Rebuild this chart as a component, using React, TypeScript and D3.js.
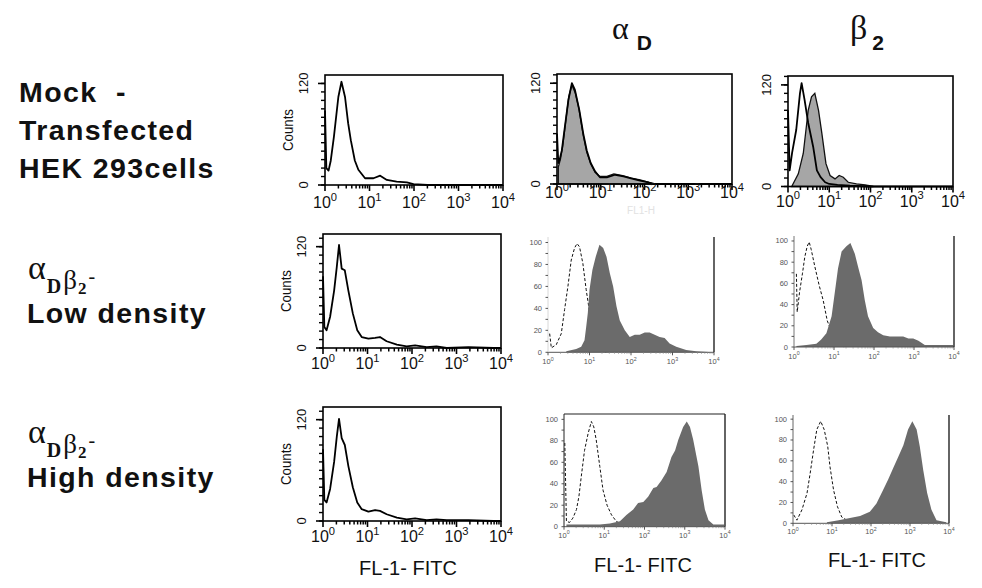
import React, { useEffect, useRef } from 'react';
import * as d3 from 'd3';

// each point: [log10 FL1 intensity, counts]
type Pt = [number, number];

const DECADES = [0, 1, 2, 3, 4];
const CQ_COUNT_LABELS = [0, 120];
const WM_COUNT_LABELS = [0, 20, 40, 60, 80, 100];
const AXIS_TITLE = 'FL-1- FITC';

// Row 1 - mock transfected HEK 293
const mockIsotype: Pt[] = [
  [0, 88], [0.03, 20], [0.08, 17], [0.13, 29], [0.2, 57], [0.3, 104], [0.37, 122], [0.45, 104],
  [0.52, 73], [0.58, 53], [0.67, 29], [0.75, 18], [0.9, 8], [1.09, 8], [1.24, 11], [1.39, 6],
  [1.61, 4], [1.84, 3], [1.99, 1], [2.3, 0], [4, 0],
];
const mockAlphaCtrl: Pt[] = [
  [0, 60], [0.03, 25], [0.06, 29], [0.11, 40], [0.18, 68], [0.26, 100], [0.34, 120], [0.41, 112],
  [0.51, 88], [0.6, 60], [0.68, 40], [0.77, 25], [0.87, 15], [0.98, 8], [1.14, 8], [1.33, 11],
  [1.52, 9], [1.67, 7], [1.9, 4], [2.09, 2], [2.2, 0], [4, 0],
];
const mockAlphaStain: Pt[] = [
  [0.03, 20], [0.08, 30], [0.13, 45], [0.2, 75], [0.27, 104], [0.34, 118], [0.42, 108], [0.5, 90],
  [0.6, 58], [0.68, 38], [0.77, 24], [0.87, 14], [0.98, 9], [1.14, 9], [1.3, 12], [1.5, 10],
  [1.7, 7], [1.9, 5], [2.1, 2], [2.25, 0],
];
const mockBetaCtrl: Pt[] = [
  [0, 90], [0.04, 19], [0.1, 40], [0.2, 67], [0.29, 110], [0.33, 122], [0.4, 103], [0.49, 75],
  [0.61, 47], [0.7, 19], [0.79, 11], [0.9, 5], [1.0, 3], [1.2, 2], [1.5, 1], [2.0, 0], [4, 0],
];
const mockBetaStain: Pt[] = [
  [0.09, 0], [0.25, 15], [0.37, 39], [0.49, 90], [0.57, 106], [0.65, 110], [0.74, 90], [0.82, 63],
  [0.92, 27], [1.02, 13], [1.14, 9], [1.24, 13], [1.34, 11], [1.46, 5], [1.66, 3], [1.87, 2], [2.07, 0],
];

// Row 2 - low density alphaD beta2
const lowIsotype: Pt[] = [
  [0, 85], [0.03, 25], [0.08, 21], [0.16, 37], [0.25, 68], [0.31, 96], [0.36, 122], [0.42, 94],
  [0.49, 92], [0.57, 68], [0.67, 41], [0.77, 21], [0.87, 13], [1.02, 11], [1.17, 12], [1.28, 13],
  [1.43, 8], [1.66, 4], [1.88, 2], [2.07, 3], [2.33, 1], [2.55, 2], [2.78, 0], [3.27, 1], [3.83, 0], [4, 0],
];
const lowAlphaCtrl: Pt[] = [
  [0.04, 17], [0.08, 4], [0.2, 7], [0.32, 17], [0.4, 39], [0.48, 60], [0.56, 84], [0.64, 95],
  [0.7, 99], [0.76, 96], [0.84, 81], [0.92, 57], [0.98, 42], [1.08, 14], [1.2, 4], [1.4, 0],
];
const lowAlphaStain: Pt[] = [
  [0.44, 1], [0.68, 3], [0.8, 5], [0.88, 11], [0.92, 23], [0.96, 36], [1.0, 57], [1.07, 75],
  [1.15, 87], [1.24, 98], [1.33, 95], [1.41, 87], [1.49, 72], [1.57, 60], [1.65, 42], [1.73, 29],
  [1.85, 20], [1.97, 14], [2.09, 16], [2.21, 16], [2.33, 18], [2.45, 18], [2.57, 16], [2.69, 14],
  [2.81, 13], [2.93, 8], [3.09, 5], [3.33, 2], [3.57, 1], [3.98, 0],
];
const lowBetaCtrl: Pt[] = [
  [0.06, 69], [0.08, 33], [0.14, 52], [0.21, 69], [0.27, 85], [0.33, 95], [0.38, 99], [0.43, 92],
  [0.52, 76], [0.63, 58], [0.73, 44], [0.83, 25], [0.89, 19], [1.02, 7], [1.14, 1], [1.3, 0],
];
const lowBetaStain: Pt[] = [
  [0.06, 1], [0.31, 2], [0.56, 3], [0.68, 7], [0.81, 13], [0.94, 29], [1.04, 57], [1.1, 74],
  [1.19, 90], [1.31, 95], [1.41, 98], [1.52, 88], [1.6, 76], [1.69, 63], [1.77, 44], [1.85, 29],
  [1.98, 18], [2.1, 14], [2.23, 11], [2.4, 10], [2.56, 10], [2.73, 10], [2.86, 8], [2.98, 8],
  [3.11, 6], [3.27, 2], [3.44, 2], [3.65, 2], [3.98, 2],
];

// Row 3 - high density alphaD beta2
const highIsotype: Pt[] = [
  [0, 85], [0.03, 25], [0.08, 22], [0.16, 38], [0.25, 70], [0.31, 100], [0.36, 121], [0.42, 98],
  [0.49, 90], [0.57, 65], [0.67, 40], [0.77, 22], [0.87, 14], [1.02, 11], [1.17, 13], [1.28, 12],
  [1.43, 8], [1.66, 4], [1.88, 2], [2.07, 3], [2.33, 1], [2.55, 2], [2.78, 1], [3.27, 1], [3.83, 0], [4, 0],
];
const highAlphaCtrl: Pt[] = [
  [0.02, 78], [0.06, 5], [0.14, 4], [0.22, 8], [0.31, 16], [0.37, 28], [0.43, 47], [0.51, 71],
  [0.6, 87], [0.68, 98], [0.74, 93], [0.8, 81], [0.89, 56], [0.97, 34], [1.07, 20], [1.18, 11],
  [1.3, 5], [1.39, 3], [1.55, 1],
];
const highAlphaStain: Pt[] = [
  [0.06, 2], [0.56, 2], [0.89, 2], [1.14, 3], [1.39, 5], [1.55, 11], [1.72, 16], [1.84, 22],
  [1.97, 23], [2.09, 28], [2.22, 36], [2.3, 37], [2.42, 43], [2.55, 51], [2.67, 65], [2.76, 71],
  [2.84, 81], [2.96, 93], [3.05, 98], [3.13, 93], [3.21, 81], [3.34, 56], [3.42, 34], [3.5, 16],
  [3.59, 6], [3.71, 2], [3.98, 2],
];
const highBetaCtrl: Pt[] = [
  [0.02, 8], [0.1, 3], [0.23, 13], [0.36, 29], [0.44, 48], [0.53, 71], [0.61, 90], [0.71, 98],
  [0.8, 90], [0.89, 74], [0.95, 54], [1.04, 32], [1.14, 16], [1.25, 6], [1.38, 3], [1.55, 1],
];
const highBetaStain: Pt[] = [
  [0.87, 1], [1.17, 3], [1.46, 5], [1.72, 7], [1.97, 11], [2.14, 19], [2.31, 32], [2.44, 42],
  [2.57, 53], [2.7, 64], [2.83, 75], [2.95, 90], [3.06, 98], [3.17, 90], [3.25, 74], [3.34, 51],
  [3.44, 29], [3.55, 13], [3.68, 3], [3.93, 1],
];

interface Panel {
  kind: 'cq' | 'wm';
  x0: number; x1: number; y0: number; y1: number;
  yMax: number;
  labelDy: number;
  ctrl: Pt[];
  stain?: Pt[];
  counts?: boolean;
  box?: boolean;
  left?: string;
}

const PANELS: Panel[] = [
  { kind: 'cq', x0: 325, x1: 503, y0: 75, y1: 185, yMax: 130, labelDy: 23, counts: true, ctrl: mockIsotype },
  { kind: 'cq', x0: 557, x1: 732, y0: 74, y1: 184, yMax: 131, labelDy: 14, ctrl: mockAlphaCtrl, stain: mockAlphaStain },
  { kind: 'cq', x0: 788, x1: 953, y0: 76, y1: 186.5, yMax: 130.5, labelDy: 20, ctrl: mockBetaCtrl, stain: mockBetaStain },
  { kind: 'cq', x0: 323, x1: 501, y0: 234, y1: 348, yMax: 135, labelDy: 21, counts: true, ctrl: lowIsotype },
  { kind: 'wm', x0: 548, x1: 714, y0: 237, y1: 352.3, yMax: 105, labelDy: 12, left: '#d8d8d8', ctrl: lowAlphaCtrl, stain: lowAlphaStain },
  { kind: 'wm', x0: 794, x1: 954, y0: 236, y1: 347, yMax: 104.7, labelDy: 11.5, left: '#777', ctrl: lowBetaCtrl, stain: lowBetaStain },
  { kind: 'cq', x0: 323, x1: 501, y0: 407, y1: 521, yMax: 135, labelDy: 21, counts: true, ctrl: highIsotype },
  { kind: 'wm', x0: 564, x1: 725, y0: 414, y1: 526.7, yMax: 105, labelDy: 11, box: true, ctrl: highAlphaCtrl, stain: highAlphaStain },
  { kind: 'wm', x0: 793, x1: 949, y0: 415, y1: 523.3, yMax: 104, labelDy: 11, left: '#666', ctrl: highBetaCtrl, stain: highBetaStain },
];

const SANS = 'Arial, "Liberation Sans", Helvetica, sans-serif';
const SERIF = '"Times New Roman", "Liberation Serif", serif';

type G = d3.Selection<SVGGElement, unknown, null, undefined>;

function decadeLabel(g: G, x: number, y: number, k: number, size: number, fill: string) {
  const t = g.append('text')
    .attr('x', x).attr('y', y)
    .attr('text-anchor', 'middle')
    .attr('font-family', SANS)
    .attr('font-size', size)
    .attr('fill', fill);
  t.append('tspan').text('10');
  t.append('tspan').attr('dy', -size * 0.45).attr('font-size', size * 0.7).text(String(k));
}

function drawPanel(g: G, p: Panel) {
  const x = d3.scaleLog().domain([1, 1e4]).range([p.x0, p.x1]);
  const y = d3.scaleLinear().domain([0, p.yMax]).range([p.y1, p.y0]);
  const fx = (d: Pt) => x(Math.pow(10, d[0]));
  const area = d3.area<Pt>().x(fx).y0(y(0)).y1(d => y(d[1]));
  const line = d3.line<Pt>().x(fx).y(d => y(d[1]));
  const minors = DECADES.slice(0, -1).flatMap(k => d3.range(2, 10).map(m => m * Math.pow(10, k)));

  if (p.kind === 'cq') {
    if (p.stain) {
      g.append('path').datum(p.stain).attr('d', area)
        .attr('fill', '#a6a6a6').attr('stroke', '#111').attr('stroke-width', 1.3);
    }
    g.append('path').datum(p.ctrl).attr('d', line)
      .attr('fill', 'none').attr('stroke', '#000').attr('stroke-width', 1.8)
      .attr('stroke-linejoin', 'round');

    g.append('rect')
      .attr('x', p.x0).attr('y', p.y0)
      .attr('width', p.x1 - p.x0).attr('height', p.y1 - p.y0)
      .attr('fill', 'none').attr('stroke', '#000').attr('stroke-width', 1.6);

    // x comb
    g.selectAll(null).data(minors).enter().append('line')
      .attr('x1', d => x(d)).attr('x2', d => x(d))
      .attr('y1', p.y1).attr('y2', p.y1 + 3.5)
      .attr('stroke', '#000').attr('stroke-width', 1.5);
    g.selectAll(null).data(DECADES).enter().append('line')
      .attr('x1', d => x(Math.pow(10, d))).attr('x2', d => x(Math.pow(10, d)))
      .attr('y1', p.y1).attr('y2', p.y1 + 6)
      .attr('stroke', '#000').attr('stroke-width', 1.6);
    // y comb
    g.selectAll(null).data(d3.range(0, p.yMax, 10)).enter().append('line')
      .attr('x1', p.x0 - 4).attr('x2', p.x0)
      .attr('y1', d => y(d)).attr('y2', d => y(d))
      .attr('stroke', '#000').attr('stroke-width', 1.4);
    g.selectAll(null).data(CQ_COUNT_LABELS).enter().append('line')
      .attr('x1', p.x0 - 7).attr('x2', p.x0)
      .attr('y1', d => y(d)).attr('y2', d => y(d))
      .attr('stroke', '#000').attr('stroke-width', 1.6);

    CQ_COUNT_LABELS.forEach(v => {
      g.append('text')
        .attr('transform', `translate(${p.x0 - 17},${y(v)}) rotate(-90)`)
        .attr('text-anchor', 'middle')
        .attr('font-family', SANS).attr('font-size', 13).attr('fill', '#111')
        .text(String(v));
    });
    DECADES.forEach(k => decadeLabel(g, x(Math.pow(10, k)), p.y1 + p.labelDy, k, 16, '#111'));

    if (p.counts) {
      g.append('text')
        .attr('transform', `translate(${p.x0 - 32},${(p.y0 + p.y1) / 2}) rotate(-90)`)
        .attr('text-anchor', 'middle')
        .attr('font-family', SANS).attr('font-size', 15).attr('fill', '#111')
        .attr('textLength', 42).attr('lengthAdjust', 'spacingAndGlyphs')
        .text('Counts');
    }
    return;
  }

  // WinMDI-style panel
  g.append('path').datum(p.ctrl).attr('d', line)
    .attr('fill', 'none').attr('stroke', '#111').attr('stroke-width', 1)
    .attr('stroke-dasharray', '3,2');
  g.append('path').datum(p.stain).attr('d', area).attr('fill', '#6b6b6b');

  g.append('line')
    .attr('x1', p.x0).attr('x2', p.x1).attr('y1', p.y1).attr('y2', p.y1)
    .attr('stroke', '#555').attr('stroke-width', 1);
  g.append('line')
    .attr('x1', p.x1).attr('x2', p.x1).attr('y1', p.y0).attr('y2', p.y1)
    .attr('stroke', '#111').attr('stroke-width', 1.3);
  g.append('line')
    .attr('x1', p.x0).attr('x2', p.x0).attr('y1', p.y0).attr('y2', p.y1)
    .attr('stroke', p.box ? '#222' : (p.left ?? '#888')).attr('stroke-width', 1);
  if (p.box) {
    g.append('line')
      .attr('x1', p.x0).attr('x2', p.x1).attr('y1', p.y0).attr('y2', p.y0)
      .attr('stroke', '#222').attr('stroke-width', 1.2);
  }

  g.selectAll(null).data(d3.range(0, 101, 10)).enter().append('line')
    .attr('x1', p.x0 - 2.5).attr('x2', p.x0)
    .attr('y1', d => y(d)).attr('y2', d => y(d))
    .attr('stroke', '#444').attr('stroke-width', 0.9);
  g.selectAll(null).data(DECADES).enter().append('line')
    .attr('x1', d => x(Math.pow(10, d))).attr('x2', d => x(Math.pow(10, d)))
    .attr('y1', p.y1).attr('y2', p.y1 + 3)
    .attr('stroke', '#444').attr('stroke-width', 0.9);
  g.selectAll(null).data(minors).enter().append('line')
    .attr('x1', d => x(d)).attr('x2', d => x(d))
    .attr('y1', p.y1).attr('y2', p.y1 + 1.5)
    .attr('stroke', '#888').attr('stroke-width', 0.7);

  WM_COUNT_LABELS.forEach(v => {
    g.append('text')
      .attr('x', p.x0 - 6).attr('y', y(v) + 2.5)
      .attr('text-anchor', 'end')
      .attr('font-family', SANS).attr('font-size', 7.5).attr('fill', '#555')
      .text(String(v));
  });
  DECADES.forEach(k => decadeLabel(g, x(Math.pow(10, k)), p.y1 + p.labelDy, k, 7.5, '#555'));
}

const App: React.FC = () => {
  const svgRef = useRef<SVGSVGElement>(null);

  useEffect(() => {
    if (!svgRef.current) return;
    const svg = d3.select(svgRef.current);
    svg.selectAll('*').remove();
    const root = svg.append('g') as unknown as G;

    PANELS.forEach(p => drawPanel(root.append('g') as unknown as G, p));

    // axis titles under each column
    [[408, 575], [643, 572], [877, 567]].forEach(([cx, by]) => {
      root.append('text')
        .attr('x', cx).attr('y', by)
        .attr('text-anchor', 'middle')
        .attr('font-family', SANS).attr('font-size', 20).attr('fill', '#111')
        .text(AXIS_TITLE);
    });

    // faint scanned remnant of the original axis name (top middle panel)
    root.append('text')
      .attr('x', 641).attr('y', 214)
      .attr('text-anchor', 'middle')
      .attr('font-family', SANS).attr('font-size', 10).attr('fill', '#e2e2e2')
      .text('FL1-H');

    // column headers
    const h1 = root.append('text').attr('x', 612).attr('y', 39).attr('fill', '#111');
    h1.append('tspan').attr('font-family', SERIF).attr('font-size', 32).text('α');
    h1.append('tspan').attr('dx', 8).attr('dy', 11).attr('font-family', SANS)
      .attr('font-weight', 'bold').attr('font-size', 21).text('D');
    const h2 = root.append('text').attr('x', 850).attr('y', 39).attr('fill', '#111');
    h2.append('tspan').attr('font-family', SERIF).attr('font-size', 34).text('β');
    h2.append('tspan').attr('dx', 5).attr('dy', 11).attr('font-family', SANS)
      .attr('font-weight', 'bold').attr('font-size', 21).text('2');

    // row labels
    const bold = (x: number, y: number, s: string) =>
      root.append('text')
        .attr('x', x).attr('y', y)
        .attr('font-family', SANS).attr('font-weight', 'bold')
        .attr('font-size', 28.5).attr('letter-spacing', 1.4).attr('fill', '#111')
        .style('white-space', 'pre')
        .text(s);
    bold(19, 102, 'Mock  -');
    bold(19, 140, 'Transfected');
    bold(19, 177.5, 'HEK 293cells');

    const formula = (yb: number) => {
      const t = root.append('text').attr('x', 28).attr('y', yb).attr('fill', '#111').attr('font-family', SERIF);
      t.append('tspan').attr('font-size', 34).text('α');
      t.append('tspan').attr('dx', 1).attr('dy', 14).attr('font-size', 20).attr('font-weight', 'bold').text('D');
      t.append('tspan').attr('dx', 2).attr('dy', -4).attr('font-size', 27).text('β');
      t.append('tspan').attr('dx', 1).attr('dy', 5).attr('font-size', 17).attr('font-weight', 'bold').text('2');
      t.append('tspan').attr('dx', 2).attr('dy', -11).attr('font-size', 20).text('-');
    };
    formula(279);
    bold(27, 323, 'Low density');
    formula(443);
    bold(27, 487, 'High density');
  }, []);

  return (
    <svg
      ref={svgRef}
      width={982}
      height={588}
      viewBox="0 0 982 588"
      style={{ position: 'absolute', left: 0, top: 0, background: '#fff' }}
    />
  );
};

export default App;
